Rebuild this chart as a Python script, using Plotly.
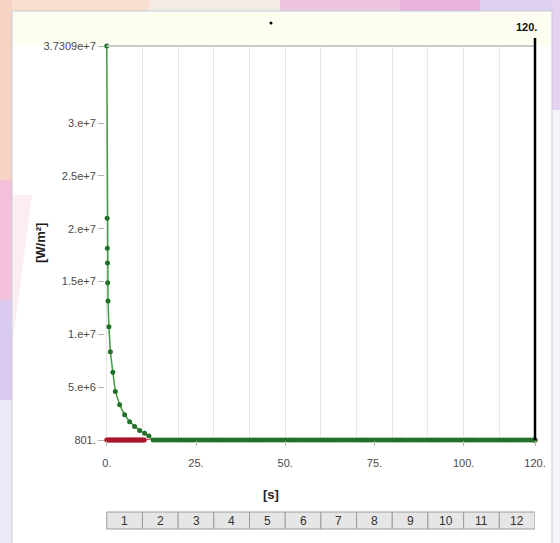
import plotly.graph_objects as go

# ---------------- data ----------------
green_time = [0.0, 0.1, 0.15, 0.2, 0.25, 0.35, 0.6, 1.0, 1.7, 2.4, 3.6, 5.0, 6.4, 7.8, 9.2, 10.6, 11.8,
              13.0, 13.8, 14.6, 15.4, 16.2, 17.0, 17.8, 18.6, 19.4, 20.3, 21.0, 21.7, 22.4, 23.1, 23.9,
              24.7, 25.5, 26.3, 27.1, 27.9, 28.7, 29.5, 30.3, 31.0, 31.7, 32.4, 33.1, 33.9, 34.7, 35.5,
              36.3, 37.1, 37.9, 38.7, 39.5, 40.3, 41.0, 41.7, 42.4, 43.1, 43.9, 44.7, 45.5, 46.3, 47.1,
              47.9, 48.7, 49.5, 50.3, 51.0, 51.7, 52.4, 53.1, 53.9, 54.7, 55.5, 56.3, 57.1, 57.9, 58.7,
              59.5, 60.3, 61.0, 61.7, 62.4, 63.1, 63.9, 64.7, 65.5, 66.3, 67.1, 67.9, 68.7, 69.5, 70.3,
              71.0, 71.7, 72.4, 73.1, 73.9, 74.7, 75.5, 76.3, 77.1, 77.9, 78.7, 79.5, 80.3, 81.0, 81.7,
              82.4, 83.1, 83.9, 84.7, 85.5, 86.3, 87.1, 87.9, 88.7, 89.5, 90.3, 91.0, 91.7, 92.4, 93.1,
              93.9, 94.7, 95.5, 96.3, 97.1, 97.9, 98.7, 99.5, 100.3, 101.0, 101.7, 102.4, 103.1, 103.9,
              104.7, 105.5, 106.3, 107.1, 107.9, 108.7, 109.5, 110.3, 111.0, 111.7, 112.4, 113.1, 113.9,
              114.7, 115.5, 116.3, 117.1, 117.9, 118.7, 119.5, 120.0]
green_flux_head = [37309000, 21000000, 18150000, 16750000, 14900000, 13160000, 10730000, 8350000,
                   6410000, 4600000, 3330000, 2380000, 1740000, 1270000, 890000, 640000, 380000]
green_flux = green_flux_head + [801] * (len(green_time) - len(green_flux_head))

red_time = [0.0, 0.35, 0.7, 1.05, 1.4, 1.75, 2.1, 2.45, 2.8, 3.15, 3.5, 3.85, 4.2, 4.55, 4.9, 5.25,
            5.6, 5.95, 6.3, 6.65, 7.0, 7.35, 7.7, 8.05, 8.4, 8.75, 9.1, 9.45, 9.8, 10.15, 10.5, 120.0]
red_flux = [801] * len(red_time)

y_tick_vals = [801, 5e6, 1e7, 1.5e7, 2e7, 2.5e7, 3e7, 37309000]
y_tick_text = ["801.", "5.e+6", "1.e+7", "1.5e+7", "2.e+7", "2.5e+7", "3.e+7", "3.7309e+7"]
x_tick_vals = [0, 25, 50, 75, 100, 120]
x_tick_text = ["0.", "25.", "50.", "75.", "100.", "120."]
step_edges = [0, 10, 20, 30, 40, 50, 60, 70, 80, 90, 100, 110, 120]
step_labels = ["1", "2", "3", "4", "5", "6", "7", "8", "9", "10", "11", "12"]
current_time = 120
y_min, y_max = 801, 37309000
x_min, x_max = -0.5, 120

# ---------------- layout helpers ----------------
W, H = 560, 543
L, R, T, B = 105, 25, 46, 103
PW, PH = W - L - R, H - T - B


def px(x):
    return (x - L) / PW


def py(y):
    return (H - B - y) / PH


TICKFONT = "Liberation Sans, Arial, sans-serif"
BOLDFONT = "Liberation Sans, Arial, sans-serif"

fig = go.Figure()

fig.add_trace(go.Scatter(
    x=red_time, y=red_flux, mode="lines+markers",
    line=dict(color="#c22a3c", width=1.5),
    marker=dict(color="#a8182c", size=5),
    cliponaxis=False, showlegend=False, hoverinfo="skip"))

fig.add_trace(go.Scatter(
    x=green_time, y=green_flux, mode="lines+markers",
    line=dict(color="#3f9e3f", width=1.5),
    marker=dict(color="#22702a", size=5),
    cliponaxis=False, showlegend=False, hoverinfo="skip"))

shapes = []
# background decoration outside panel
bg_rects = [
    (0, 0, 150, 11, "#f8dfd0"), (150, 0, 280, 11, "#f2ece4"), (280, 0, 400, 11, "#edc4e2"),
    (400, 0, 480, 11, "#e8b2da"), (480, 0, 560, 11, "#ddd0f1"),
    (0, 0, 12, 180, "#f6d3c2"), (0, 180, 12, 300, "#f2c0da"), (0, 300, 12, 400, "#d9cbef"),
    (0, 400, 12, 543, "#ece8f5"),
    (552, 0, 560, 110, "#e6d2f0"), (552, 110, 560, 543, "#f6f4f9"),
]
for x0, y0, x1, y1, c in bg_rects:
    shapes.append(dict(type="rect", xref="paper", yref="paper", x0=px(x0), x1=px(x1),
                       y0=py(y1), y1=py(y0), fillcolor=c, line=dict(width=0), layer="below"))
# white panel
shapes.append(dict(type="rect", xref="paper", yref="paper", x0=px(12), x1=px(552), y0=py(548), y1=py(11),
                   fillcolor="white", line=dict(color="#c4ccd6", width=1), layer="below"))
# cream strip at top of panel
shapes.append(dict(type="rect", xref="paper", yref="paper", x0=px(13), x1=px(551), y0=py(46), y1=py(12),
                   fillcolor="#fdfdf2", line=dict(width=0), layer="below"))
# faint pink watermark
shapes.append(dict(type="path", xref="paper", yref="paper",
                   path="M {a},{b} L {c},{d} L {e},{f} Z".format(a=px(13), b=py(195), c=px(32), d=py(195),
                                                                 e=px(13), f=py(340)),
                   fillcolor="#f7d0e4", opacity=0.4, line=dict(width=0), layer="below"))
# top grey line at max value
shapes.append(dict(type="line", xref="paper", yref="paper",
                   x0=(0 - x_min) / (x_max - x_min), x1=1, y0=1, y1=1,
                   line=dict(color="#c9c9c9", width=2)))
# current-time marker line
cx = (current_time - x_min) / (x_max - x_min)
shapes.append(dict(type="line", xref="paper", yref="paper", x0=cx, x1=cx, y0=0, y1=py(38),
                   line=dict(color="black", width=2.5)))
# small dot top centre
shapes.append(dict(type="circle", xref="paper", yref="paper", x0=px(269.5), x1=px(272.5),
                   y0=py(24.5), y1=py(21.5), fillcolor="black", line=dict(width=0)))

annotations = []
# step table
for i, lbl in enumerate(step_labels):
    x0, x1 = step_edges[i], step_edges[i + 1]
    shapes.append(dict(type="rect", xref="x", yref="paper", x0=x0, x1=x1, y0=py(529), y1=py(512),
                       fillcolor="#e6e6e6", line=dict(color="#9c9c9c", width=1)))
    annotations.append(dict(x=(x0 + x1) / 2, y=py(520.5), xref="x", yref="paper", text=lbl,
                            xanchor="center", yanchor="middle",
                            showarrow=False, font=dict(family=TICKFONT, size=12, color="#333333")))

annotations += [
    dict(x=px(40), y=py(243), xref="paper", yref="paper", text="<b>[W/m²]</b>", textangle=-90,
         xanchor="center", yanchor="middle",
         showarrow=False, font=dict(family=BOLDFONT, size=13, color="#222222")),
    dict(x=px(271), y=py(495), xref="paper", yref="paper", text="<b>[s]</b>",
         xanchor="center", yanchor="middle",
         showarrow=False, font=dict(family=BOLDFONT, size=13, color="#222222")),
    dict(x=cx, y=py(27), xref="paper", yref="paper", text="<b>120.</b>", xanchor="right",
         yanchor="middle", xshift=4,
         showarrow=False, font=dict(family=BOLDFONT, size=11, color="#111111")),
]

fig.update_layout(
    width=W, height=H,
    margin=dict(l=L, r=R, t=T, b=B),
    paper_bgcolor="#f3dbe7",
    plot_bgcolor="rgba(0,0,0,0)",
    shapes=shapes,
    annotations=annotations,
    showlegend=False,
    xaxis=dict(range=[x_min, x_max], tickvals=x_tick_vals, ticktext=x_tick_text,
               showgrid=False, zeroline=False, showline=False,
               ticks="outside", ticklen=5, tickcolor="#b5b5b5", ticklabelstandoff=8,
               tickfont=dict(family=TICKFONT, size=11, color="#4a4a4a"),
               minor=dict(tickvals=step_edges, showgrid=True, gridcolor="#e6e6e6", gridwidth=1, ticks="")),
    yaxis=dict(range=[y_min, y_max], tickvals=y_tick_vals, ticktext=y_tick_text,
               showgrid=False, zeroline=False, showline=False,
               ticks="outside", ticklen=6, tickcolor="#b5b5b5",
               tickfont=dict(family=TICKFONT, size=11, color="#4a4a4a")),
)

fig.write_html("out.html", config={"displayModeBar": False},
               post_script="document.body.style.margin='0px';document.body.style.overflow='hidden';")
